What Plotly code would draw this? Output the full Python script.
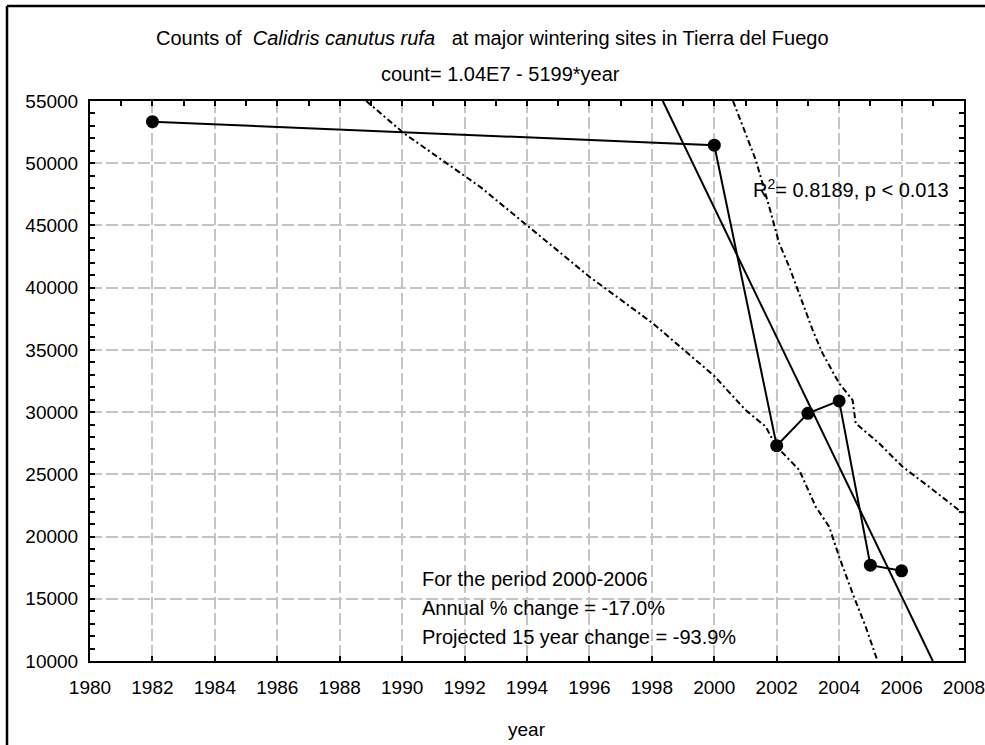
import plotly.graph_objects as go

# ---- data ----
years = [1982, 2000, 2002, 2003, 2004, 2005, 2006]
counts = [53340, 51450, 27300, 29900, 30900, 17700, 17250]

fit_years = [1998.35, 2007.0]
fit_counts = [55000, 10000]

lower_years = [1988.85, 1990.06, 1992.5, 1993.97, 1996.0, 1998.03, 2000.0, 2001.0, 2001.65,
               2001.97, 2002.72, 2003.25, 2003.68, 2004.0, 2004.43, 2004.85, 2005.23]
lower_counts = [55000, 52400, 48100, 45040, 40880, 37140, 32900, 30170, 28830,
                27300, 25350, 22400, 20790, 18380, 15440, 12760, 10000]

upper_years = [2000.6, 2001.01, 2001.33, 2001.76, 2002.08, 2002.4, 2002.72, 2003.15, 2003.47,
               2004.0, 2004.43, 2004.53, 2005.28, 2006.03, 2006.88, 2008.0]
upper_counts = [55000, 52400, 50260, 46500, 43560, 41690, 39550, 36600, 34720,
                32310, 30970, 29100, 27490, 25610, 24000, 21800]

x_range = [1980, 2008]
y_range = [10000, 55000]
x_ticks = list(range(1980, 2009, 2))
y_ticks = list(range(10000, 55001, 5000))

title_text = "Counts of  <i>Calidris canutus rufa</i>   at major wintering sites in Tierra del Fuego"
subtitle_text = "count= 1.04E7 - 5199*year"
r2_text = "R<sup>2</sup>= 0.8189, p < 0.013"
note_lines = ["For the period 2000-2006", "Annual % change = -17.0%",
              "Projected 15 year change = -93.9%"]
x_title = "year"

# ---- layout helpers (pixel -> paper) ----
W, H = 985, 745
L, R, T, B = 90, 964, 101, 661


def px(x):
    return (x - L) / (R - L)


def py(y):
    return (B - y) / (B - T)


FONT = "Liberation Sans, Arial, sans-serif"

fig = go.Figure()

band_dash = "6px,3px,2px,3px"
fig.add_trace(go.Scatter(x=lower_years, y=lower_counts, mode="lines",
                         line=dict(color="black", width=2, dash=band_dash), hoverinfo="skip"))
fig.add_trace(go.Scatter(x=upper_years, y=upper_counts, mode="lines",
                         line=dict(color="black", width=2, dash=band_dash), hoverinfo="skip"))
fig.add_trace(go.Scatter(x=fit_years, y=fit_counts, mode="lines",
                         line=dict(color="black", width=2), hoverinfo="skip"))
fig.add_trace(go.Scatter(x=years, y=counts, mode="lines+markers",
                         line=dict(color="black", width=2),
                         marker=dict(color="black", size=13)))
# top axis with yearly ticks only
fig.add_trace(go.Scatter(x=[x_range[0]], y=[y_range[0]], xaxis="x2", mode="markers",
                         marker=dict(opacity=0), hoverinfo="skip"))

grid_dash = "12px,4px"
fig.update_layout(
    width=W, height=H,
    margin=dict(l=L, r=W - R, t=T, b=H - B, autoexpand=False),
    paper_bgcolor="white", plot_bgcolor="white",
    showlegend=False,
    font=dict(family=FONT, size=19, color="black"),
    xaxis=dict(range=x_range, tickvals=x_ticks, tickformat="d", ticks="inside", ticklen=5,
               tickwidth=1.5, tickcolor="black", showline=True, linecolor="black", linewidth=2,
               showgrid=True, gridcolor="#c4c4c4", gridwidth=1.5, griddash=grid_dash,
               zeroline=False, ticklabelstandoff=8, ticklabeloverflow="allow",
               tickfont=dict(size=19)),
    xaxis2=dict(range=x_range, overlaying="x", side="top", dtick=1, tick0=1980,
                ticks="inside", ticklen=5, tickwidth=1.5, tickcolor="black",
                showticklabels=False, showgrid=False, zeroline=False,
                showline=True, linecolor="black", linewidth=2),
    yaxis=dict(range=y_range, tickvals=y_ticks, tickformat="d", ticks="inside", ticklen=5,
               tickwidth=1.5, tickcolor="black", showline=True, linecolor="black", linewidth=2,
               mirror="allticks",
               minor=dict(dtick=1000, ticks="inside", ticklen=4, tickcolor="black", showgrid=False),
               showgrid=True, gridcolor="#c4c4c4", gridwidth=1.5, griddash=grid_dash,
               zeroline=False, ticklabelstandoff=6, ticklabeloverflow="allow",
               tickfont=dict(size=19)),
)

ann = []
ann.append(dict(text=title_text, x=px(492), y=py(38), xref="paper", yref="paper",
                xanchor="center", yanchor="middle", showarrow=False, font=dict(size=20)))
ann.append(dict(text=subtitle_text, x=px(500), y=py(74), xref="paper", yref="paper",
                xanchor="center", yanchor="middle", showarrow=False, font=dict(size=20)))
ann.append(dict(text=r2_text, x=px(751), y=py(188), xref="paper", yref="paper",
                xanchor="left", yanchor="middle", showarrow=False, font=dict(size=20)))
for i, line in enumerate(note_lines):
    ann.append(dict(text=line, x=px(420), y=py(579 + 29 * i), xref="paper", yref="paper",
                    xanchor="left", yanchor="middle", showarrow=False, font=dict(size=20)))
ann.append(dict(text=x_title, x=px(527), y=py(729), xref="paper", yref="paper",
                xanchor="center", yanchor="middle", showarrow=False, font=dict(size=19)))
fig.update_layout(annotations=ann)

# outer frame (left and top edges)
fig.add_shape(type="line", xref="paper", yref="paper", x0=px(7), x1=px(W + 5), y0=py(6), y1=py(6),
              line=dict(color="black", width=2.5))
fig.add_shape(type="line", xref="paper", yref="paper", x0=px(7), x1=px(7), y0=py(6), y1=py(H + 5),
              line=dict(color="black", width=2.5))

fig.write_html("out.html", config={"displayModeBar": False},
               post_script="document.body.style.margin='0';document.body.style.overflow='hidden';")
